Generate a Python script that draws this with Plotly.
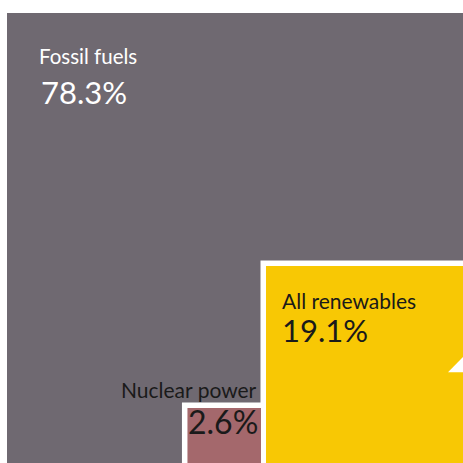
import math
import plotly.graph_objects as go

# ---- data ----
categories = ["Fossil fuels", "All renewables", "Nuclear power"]
shares = [78.3, 19.1, 2.6]          # percent of total energy
total = sum(shares)                 # 100 %

# ---- styling / layout constants ----
colors = {"Fossil fuels": "#6f6971", "All renewables": "#f8c804", "Nuclear power": "#a4686c"}
label_colors = {"Fossil fuels": "white", "All renewables": "#1a1a1a", "Nuclear power": "#1a1a1a"}
FONT = "Lato"
BORDER_PX = 11  # white outline (half of it shows outside each square)

side = {c: math.sqrt(v) for c, v in zip(categories, shares)}
total_side = math.sqrt(total)

# placement (layout): total square at origin; renewables near its bottom-right;
# nuclear just left of renewables
ren_right, ren_bottom = total_side + 0.05, 0.08
ren_left = ren_right - side["All renewables"]
ren_top = ren_bottom + side["All renewables"]
gap = 0.11
nuc_right = ren_left - gap
nuc_left = nuc_right - side["Nuclear power"]
nuc_bottom = -0.274
nuc_top = nuc_bottom + side["Nuclear power"]

fig = go.Figure()
# invisible trace to establish axes
fig.add_trace(go.Scatter(x=[0, total_side], y=[0, total_side], mode="markers",
                         marker=dict(opacity=0), hoverinfo="skip", showlegend=False))

shapes = [
    dict(type="rect", xref="x", yref="y", x0=0, x1=total_side, y0=0, y1=total_side,
         fillcolor=colors["Fossil fuels"], line=dict(width=0), layer="below"),
    dict(type="rect", xref="x", yref="y", x0=ren_left, x1=ren_right, y0=ren_bottom, y1=ren_top,
         fillcolor="white", line=dict(color="white", width=BORDER_PX), layer="below"),
    dict(type="rect", xref="x", yref="y", x0=nuc_left, x1=nuc_right, y0=nuc_bottom, y1=nuc_top,
         fillcolor="white", line=dict(color="white", width=BORDER_PX), layer="below"),
    dict(type="rect", xref="x", yref="y", x0=ren_left, x1=ren_right, y0=ren_bottom, y1=ren_top,
         fillcolor=colors["All renewables"], line=dict(width=0), layer="below"),
    dict(type="rect", xref="x", yref="y", x0=nuc_left, x1=nuc_right, y0=nuc_bottom, y1=nuc_top,
         fillcolor=colors["Nuclear power"], line=dict(width=0), layer="below"),
    # decorative white wedge at right edge of renewables panel
    dict(type="path", xref="paper", yref="paper",
         path="M 0.9676 0.196 L 1.0 0.196 L 1.0 0.229 Z",
         fillcolor="white", line=dict(width=0), layer="above"),
]

annotations = []
def label(text, x, y, size, color, xanchor="left"):
    annotations.append(dict(text=text, x=x, y=y, xref="paper", yref="paper",
                            xanchor=xanchor, yanchor="middle", showarrow=False,
                            font=dict(family=FONT, size=size, color=color)))

v = dict(zip(categories, shares))
# positions in paper fraction (pixel / 463), vertical centres of text boxes
label("Fossil fuels", 37/463, 1 - 56/463, 20.5, label_colors["Fossil fuels"])
label(f"{v['Fossil fuels']}%", 39/463, 1 - 92/463, 31, label_colors["Fossil fuels"])
label("All renewables", 280/463, 1 - 300/463, 21, label_colors["All renewables"])
label(f"{v['All renewables']}%", 280/463, 1 - 330/463, 31, label_colors["All renewables"])
label("Nuclear power", 259/463, 1 - 389/463, 21, label_colors["Nuclear power"], xanchor="right")
label(f"{v['Nuclear power']}%", 186/463, 1 - 421/463, 32, label_colors["Nuclear power"])

PX = 45.6
fig.update_layout(
    width=463, height=463,
    margin=dict(l=0, r=0, t=0, b=0),
    paper_bgcolor="white", plot_bgcolor="white",
    xaxis=dict(range=[-7/PX, 456/PX], visible=False, fixedrange=True),
    yaxis=dict(range=[total_side + 13/PX - 463/PX, total_side + 13/PX], visible=False, fixedrange=True),
    shapes=shapes, annotations=annotations, showlegend=False,
)
fig.write_html("out.html")
